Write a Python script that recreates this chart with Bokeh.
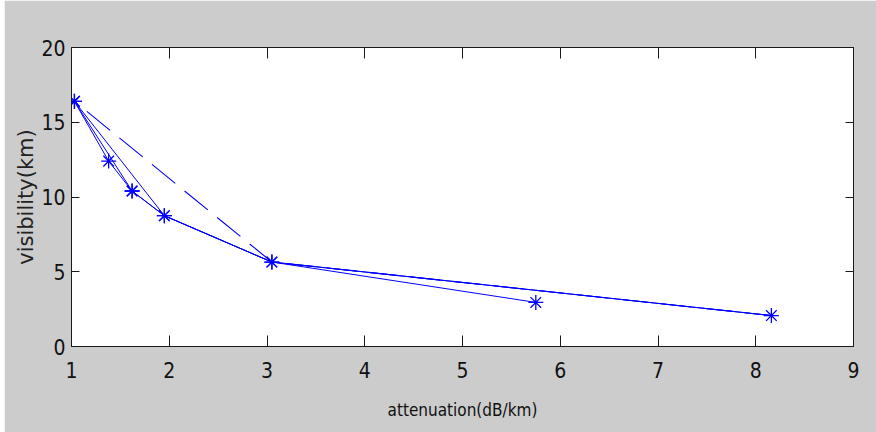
from bokeh.plotting import figure
from bokeh.models import FixedTicker, LinearAxis, Range1d, Spacer
from bokeh.layouts import row
from bokeh.embed import file_html
from bokeh.resources import INLINE

# ---- data ----
x_ticks = [1, 2, 3, 4, 5, 6, 7, 8, 9]
y_ticks = [0, 5, 10, 15, 20]

att_a = [1.03, 1.38, 1.62, 1.95, 3.05, 5.75]
vis_a = [16.4, 12.4, 10.4, 8.75, 5.65, 2.95]

att_b = [1.03, 1.62, 1.95, 3.05, 8.16]
vis_b = [16.4, 10.4, 8.75, 5.65, 2.07]

att_c = [1.03, 1.95, 3.05, 8.16]
vis_c = [16.4, 8.75, 5.65, 2.07]

att_d = [1.03, 3.05, 8.16]
vis_d = [16.4, 5.65, 2.07]

x_label = "attenuation(dB/km)"
y_label = "visibility(km)"

BLUE = "#0000ff"
GRAY = "#cccccc"
NARROW = "DejaVu Sans Condensed"
INK = "#111111"

p = figure(width=872, height=432, output_backend="svg", toolbar_location=None,
           x_range=Range1d(1, 9), y_range=Range1d(0, 20),
           min_border_left=67, min_border_right=23, min_border_top=47,
           min_border_bottom=86, background_fill_color="white",
           border_fill_color=GRAY)
p.grid.visible = False
p.outline_line_color = "#1a1a1a"
p.outline_line_width = 1

p.line(att_d, vis_d, line_color=BLUE, line_width=1.1, line_dash="30 12",
       line_dash_offset=26)
p.line(att_c, vis_c, line_color=BLUE, line_width=1)
p.line(att_b, vis_b, line_color=BLUE, line_width=1)
p.line(att_a, vis_a, line_color=BLUE, line_width=1)
p.scatter(att_b, vis_b, marker="asterisk", size=15, line_color=BLUE, line_width=1.3)
p.scatter(att_a, vis_a, marker="asterisk", size=15, line_color=BLUE, line_width=1.3)

xa = p.below[0]
ya = p.left[0]
top = LinearAxis()
right = LinearAxis()
p.add_layout(top, "above")
p.add_layout(right, "right")

for ax in [xa, top]:
    ax.ticker = FixedTicker(ticks=x_ticks)
    ax.major_tick_in = 11
for ax in [ya, right]:
    ax.ticker = FixedTicker(ticks=y_ticks)
    ax.major_tick_in = 8

for ax in [xa, ya, top, right]:
    ax.minor_tick_line_color = None
    ax.major_tick_out = 0
    ax.axis_line_color = "#1a1a1a"
    ax.major_tick_line_color = "#1a1a1a"
    ax.major_label_text_font = NARROW
    ax.major_label_text_font_size = "21px"
    ax.major_label_text_color = INK

for ax in [top, right]:
    ax.major_label_text_font_size = "1px"
    ax.major_label_text_color = None
    ax.major_label_standoff = 0

xa.major_label_standoff = 15
xa.axis_label = x_label
xa.axis_label_text_font = NARROW
xa.axis_label_text_font_size = "17px"
xa.axis_label_text_font_style = "normal"
xa.axis_label_text_color = INK
xa.axis_label_standoff = 19

ya.major_label_standoff = 6
ya.axis_label = y_label
ya.axis_label_text_font = "DejaVu Sans"
ya.axis_label_text_font_size = "21px"
ya.axis_label_text_font_style = "normal"
ya.axis_label_text_color = "#222222"
ya.axis_label_standoff = 0

layout = row(Spacer(width=4, height=432), p)

open("out.html", "w").write(file_html(layout, INLINE))
